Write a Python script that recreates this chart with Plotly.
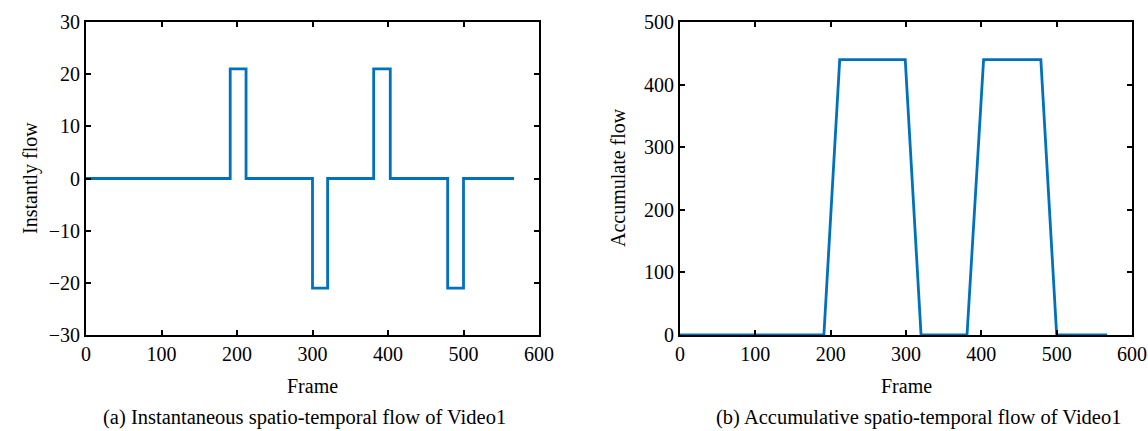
import plotly.graph_objects as go

# Instantaneous flow (step changes at these frames)
inst_frames = [0, 191, 212, 300, 320, 381, 403, 479, 500, 567]
inst_values = [0, 21, 0, -21, 0, 21, 0, -21, 0, 0]

# Accumulative flow (breakpoints)
acc_frames = [0, 191, 212, 299, 320, 381, 403, 479, 500, 567]
acc_values = [0, 0, 440, 440, 0, 0, 440, 440, 0, 0]

x_ticks = [0, 100, 200, 300, 400, 500, 600]
y1_ticks = [-30, -20, -10, 0, 10, 20, 30]
y2_ticks = [0, 100, 200, 300, 400, 500]

W, H = 1148, 431
LINE = "#0072BD"
FONT = "Liberation Serif"

fig = go.Figure()
fig.add_trace(go.Scatter(x=inst_frames, y=inst_values, mode="lines",
                         line=dict(color=LINE, width=2.8, shape="hv"),
                         xaxis="x", yaxis="y", showlegend=False))
fig.add_trace(go.Scatter(x=acc_frames, y=acc_values, mode="lines",
                         line=dict(color=LINE, width=2.8),
                         xaxis="x2", yaxis="y2", showlegend=False))

def px_x(p):
    return p / W

def px_y(p):
    return 1 - p / H

axis_common = dict(showline=True, linecolor="black", linewidth=2, mirror="allticks",
                   ticks="inside", ticklen=5, tickwidth=2, tickcolor="black",
                   showgrid=False, zeroline=False, automargin=False,
                   tickfont=dict(family=FONT, size=20, color="black"))

fig.update_layout(
    template="none",
    width=W, height=H,
    margin=dict(l=0, r=0, t=0, b=0, autoexpand=False),
    font=dict(family=FONT, color="black"),
    paper_bgcolor="white", plot_bgcolor="white",
    xaxis=dict(domain=[px_x(86), px_x(539)], range=[0, 600], tickvals=x_ticks,
               anchor="y", **axis_common),
    yaxis=dict(domain=[px_y(335), px_y(22)], range=[-30, 30], tickvals=y1_ticks,
               anchor="x", **axis_common),
    xaxis2=dict(domain=[px_x(680), px_x(1132)], range=[0, 600], tickvals=x_ticks,
                anchor="y2", **axis_common),
    yaxis2=dict(domain=[px_y(335), px_y(22)], range=[0, 500], tickvals=y2_ticks,
                anchor="x2", **axis_common),
)

def ann(text, x, y, angle=0, size=20):
    fig.add_annotation(text=text, x=px_x(x), y=px_y(y), xref="paper", yref="paper",
                       showarrow=False, textangle=angle, xanchor="center", yanchor="middle",
                       font=dict(family=FONT, size=size, color="black"))

ann("Frame", 312, 386)
ann("Frame", 906, 386)
ann("Instantly flow", 30, 178, angle=-90)
ann("Accumulate flow", 618, 178, angle=-90)
ann("(a) Instantaneous spatio-temporal flow of Video1", 304, 417, size=20.5)
ann("(b) Accumulative spatio-temporal flow of Video1", 918, 417, size=20.5)

fig.write_html("out.html", config={"displayModeBar": False},
               post_script="document.body.style.margin='0';document.body.style.padding='0';document.body.style.overflow='hidden';")
